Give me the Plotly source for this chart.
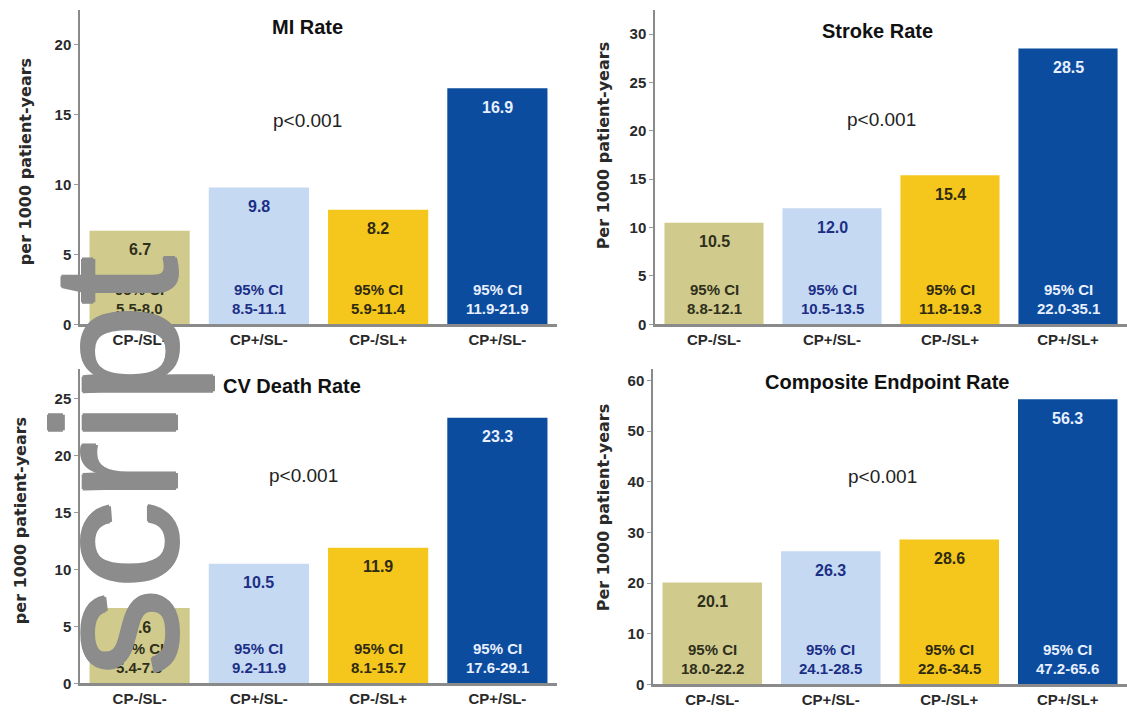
import plotly.graph_objects as go

W, H = 1127, 719

# Patient groups (x categories)
groups = ["CP-/SL-", "CP+/SL-", "CP-/SL+", "CP+/SL+"]
left_ticktext = ["CP-/SL-", "CP+/SL-", "CP-/SL+", "CP+/SL-"]
right_ticktext = ["CP-/SL-", "CP+/SL-", "CP-/SL+", "CP+/SL+"]

# Event rates per 1000 patient-years and their 95% confidence intervals
mi_rate = [6.7, 9.8, 8.2, 16.9]
mi_ci = ["5.5-8.0", "8.5-11.1", "5.9-11.4", "11.9-21.9"]

stroke_rate = [10.5, 12.0, 15.4, 28.5]
stroke_ci = ["8.8-12.1", "10.5-13.5", "11.8-19.3", "22.0-35.1"]

cv_death_rate = [6.6, 10.5, 11.9, 23.3]
cv_death_ci = ["5.4-7.9", "9.2-11.9", "8.1-15.7", "17.6-29.1"]

composite_rate = [20.1, 26.3, 28.6, 56.3]
composite_ci = ["18.0-22.2", "24.1-28.5", "22.6-34.5", "47.2-65.6"]

p_text = "p<0.001"

bar_colors = ["#D0CB8C", "#C6D9F2", "#F5C71C", "#0B4C9F"]
text_colors = ["#2f2f1c", "#1b2f86", "#2f2a12", "#e8f0ff"]

FONT = "Liberation Sans, Arial, sans-serif"
WM_GRAY = "#8c8c8c"


def fx(p):
    return p / W


def fy(p):
    return 1 - p / H


panels = [
    dict(title="MI Rate", vals=mi_rate, ci=mi_ci, ymax=22.5, dtick=5,
         x0=80, x1=557, y0=10, y1=328, ticks=left_ticktext,
         title_xy=(307, 27), p_xy=(307, 122),
         ytitle="per 1000 patient-years", ytitle_xy=(25, 164)),
    dict(title="Stroke Rate", vals=stroke_rate, ci=stroke_ci, ymax=32.5, dtick=5,
         x0=655, x1=1127, y0=10, y1=328, ticks=right_ticktext,
         title_xy=(878, 31), p_xy=(881, 121),
         ytitle="Per 1000 patient-years", ytitle_xy=(603, 147)),
    dict(title="CV Death Rate", vals=cv_death_rate, ci=cv_death_ci, ymax=27.6, dtick=5,
         x0=80, x1=557, y0=373, y1=691, ticks=left_ticktext,
         title_xy=(292, 390), p_xy=(303, 481),
         ytitle="per 1000 patient-years", ytitle_xy=(20, 527)),
    dict(title="Composite Endpoint Rate", vals=composite_rate, ci=composite_ci, ymax=62.3, dtick=10,
         x0=653, x1=1127, y0=373, y1=692, ticks=right_ticktext,
         title_xy=(887, 386), p_xy=(882, 482),
         ytitle="Per 1000 patient-years", ytitle_xy=(603, 513)),
]

fig = go.Figure()
annotations = []
layout_axes = {}

for i, pnl in enumerate(panels, start=1):
    xa = "x" if i == 1 else f"x{i}"
    ya = "y" if i == 1 else f"y{i}"
    xkey = "xaxis" if i == 1 else f"xaxis{i}"
    ykey = "yaxis" if i == 1 else f"yaxis{i}"
    xpos = list(range(len(groups)))

    fig.add_trace(go.Bar(
        x=xpos, y=pnl["vals"], width=0.84,
        marker=dict(color=bar_colors, line=dict(width=0)),
        xaxis=xa, yaxis=ya, showlegend=False, hoverinfo="skip",
    ))

    layout_axes[xkey] = dict(
        domain=[fx(pnl["x0"]), fx(pnl["x1"])], anchor=ya,
        range=[-0.5, 3.5], tickmode="array", tickvals=xpos, ticktext=pnl["ticks"],
        showline=True, linecolor="#8a8a8a", linewidth=2.5,
        ticks="", showgrid=False, zeroline=False, fixedrange=True,
        tickfont=dict(family=FONT, size=15, color="#2a2a2a", weight="bold"),
    )
    layout_axes[ykey] = dict(
        domain=[fy(pnl["y1"]), fy(pnl["y0"])], anchor=xa,
        range=[0, pnl["ymax"]], dtick=pnl["dtick"], tick0=0,
        showline=True, linecolor="#8a8a8a", linewidth=1.5,
        ticks="outside", ticklen=4, tickcolor="#9a9a9a", tickwidth=1,
        showgrid=False, zeroline=False, fixedrange=True,
        tickfont=dict(family=FONT, size=15, color="#2a2a2a", weight="bold"),
    )

    # Panel title, p-value and y-axis label
    annotations.append(dict(
        text=pnl["title"], xref="paper", yref="paper",
        x=fx(pnl["title_xy"][0]), y=fy(pnl["title_xy"][1]),
        xanchor="center", yanchor="middle", showarrow=False,
        font=dict(family=FONT, size=20, color="#111111", weight="bold"),
    ))
    annotations.append(dict(
        text=p_text, xref="paper", yref="paper",
        x=fx(pnl["p_xy"][0]), y=fy(pnl["p_xy"][1]),
        xanchor="center", yanchor="middle", showarrow=False,
        font=dict(family=FONT, size=19, color="#222222"),
    ))
    annotations.append(dict(
        text=pnl["ytitle"], xref="paper", yref="paper", textangle=-90,
        x=fx(pnl["ytitle_xy"][0]), y=fy(pnl["ytitle_xy"][1]),
        xanchor="center", yanchor="middle", showarrow=False,
        font=dict(family="DejaVu Sans, sans-serif", size=16, color="#2a2a2a", weight="bold"),
    ))

    # Rate labels at the top of each bar and CI labels at the bottom
    for j, (v, ci) in enumerate(zip(pnl["vals"], pnl["ci"])):
        annotations.append(dict(
            text=f"{v:.1f}", xref=xa, yref=ya, x=j, y=v, yshift=-19,
            xanchor="center", yanchor="middle", showarrow=False,
            font=dict(family=FONT, size=16, color=text_colors[j], weight="bold"),
        ))
        annotations.append(dict(
            text="95% CI", xref=xa, yref=ya, x=j, y=0, yshift=35,
            xanchor="center", yanchor="middle", showarrow=False,
            font=dict(family=FONT, size=15, color=text_colors[j], weight="bold"),
        ))
        annotations.append(dict(
            text=ci, xref=xa, yref=ya, x=j, y=0, yshift=16,
            xanchor="center", yanchor="middle", showarrow=False,
            font=dict(family=FONT, size=15, color=text_colors[j], weight="bold"),
        ))

# Gray vertical watermark along the left edge (slightly thickened strokes)
wm_shadow = ", ".join([
    f"1.5px 0 0 {WM_GRAY}", f"-1.5px 0 0 {WM_GRAY}",
    f"0 1.5px 0 {WM_GRAY}", f"0 -1.5px 0 {WM_GRAY}",
])
annotations.append(dict(
    text="script", xref="paper", yref="paper", textangle=-90,
    x=fx(115), y=fy(257), xanchor="center", yanchor="top", showarrow=False,
    font=dict(family=FONT, size=176, color=WM_GRAY, shadow=wm_shadow),
))

fig.update_layout(
    width=W, height=H,
    margin=dict(l=0, r=0, t=0, b=0),
    paper_bgcolor="white", plot_bgcolor="white",
    annotations=annotations,
    **layout_axes,
)

fig.write_html("out.html")
